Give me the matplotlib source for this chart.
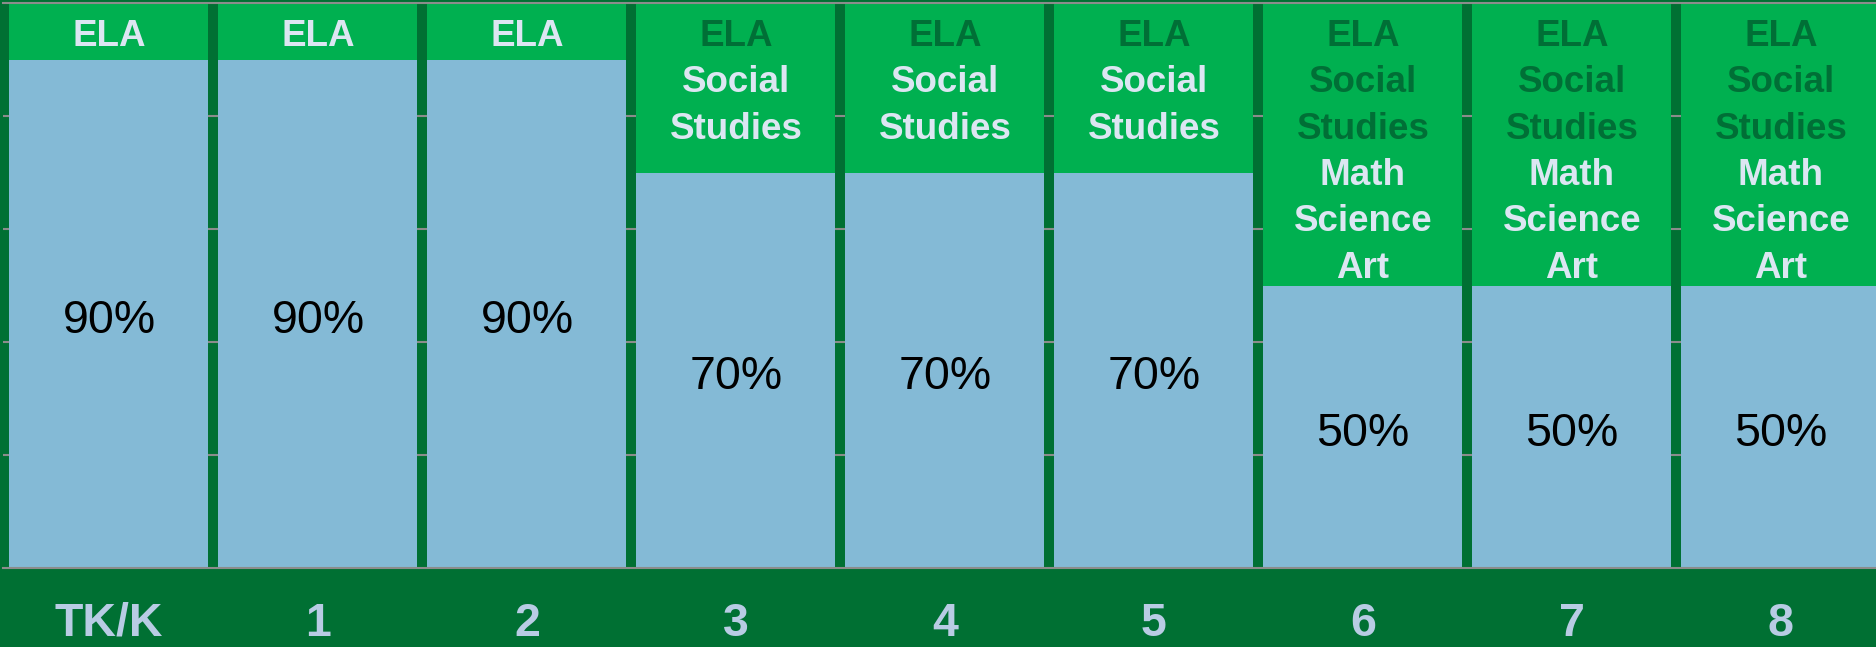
import numpy as np
import matplotlib.pyplot as plt

grades = ['TK/K', '1', '2', '3', '4', '5', '6', '7', '8']
ela_pct = [90, 90, 90, 70, 70, 70, 50, 50, 50]
other_pct = [10, 10, 10, 30, 30, 30, 50, 50, 50]
pct_labels = ['90%', '90%', '90%', '70%', '70%', '70%', '50%', '50%', '50%']
# subjects already taught (dark) and newly added (light) per grade
old_subjects = [[], [], [], ['ELA'], ['ELA'], ['ELA'],
                ['ELA', 'Social', 'Studies'], ['ELA', 'Social', 'Studies'],
                ['ELA', 'Social', 'Studies']]
new_subjects = [['ELA'], ['ELA'], ['ELA'],
                ['Social', 'Studies'], ['Social', 'Studies'], ['Social', 'Studies'],
                ['Math', 'Science', 'Art'], ['Math', 'Science', 'Art'],
                ['Math', 'Science', 'Art']]

bg = '#007033'
green = '#00B050'
blue = '#84BAD6'
light_txt = '#DCE6F2'
dark_txt = '#006F36'
cat_txt = '#B8CCE4'

fig = plt.figure(figsize=(18.76, 6.47), dpi=100, facecolor=bg)
ax = fig.add_axes([3/1876, 79/647, 1 - 3/1876, 565/647])
ax.set_facecolor(bg)

x = np.arange(len(grades))
w = 0.952
ax.bar(x, ela_pct, width=w, color=blue, zorder=2)
ax.bar(x, other_pct, bottom=ela_pct, width=w, color=green, zorder=2)

ax.set_xlim(-0.507, 8.455)
ax.set_ylim(0, 100)
ax.set_yticks([20, 40, 60, 80])
ax.grid(axis='y', color='#8C8C8C', linewidth=1.5, zorder=0)
ax.set_axisbelow(True)
ax.tick_params(left=False, bottom=False, labelleft=False, labelbottom=False)
for s in ['left', 'right']:
    ax.spines[s].set_visible(False)
for s in ['top', 'bottom']:
    ax.spines[s].set_color('#8C8C8C')
    ax.spines[s].set_linewidth(1.5)
    ax.spines[s].set_zorder(3)

for i in range(len(grades)):
    ax.annotate(pct_labels[i], xy=(x[i], ela_pct[i] / 2), xytext=(0, -19),
                textcoords='offset pixels', ha='center', va='baseline',
                fontsize=33.5, color='black', family=['Liberation Sans', 'DejaVu Sans'],
                zorder=4)
    lines = [(t, dark_txt) for t in old_subjects[i]] + [(t, light_txt) for t in new_subjects[i]]
    for j, (t, c) in enumerate(lines):
        ax.annotate(t, xy=(x[i], 100), xytext=(0, -(43 + 46.3 * j)),
                    textcoords='offset pixels', ha='center', va='baseline',
                    fontsize=26.5, fontweight='bold', color=c,
                    family=['Liberation Sans', 'DejaVu Sans'],
                    zorder=4)
    ax.annotate(grades[i], xy=(x[i], 0), xytext=(0, -68),
                textcoords='offset pixels', ha='center', va='baseline',
                fontsize=33.5, fontweight='bold', color=cat_txt,
                family=['Liberation Sans', 'DejaVu Sans'], annotation_clip=False)

fig.savefig('out.png', dpi=100, facecolor=bg)
